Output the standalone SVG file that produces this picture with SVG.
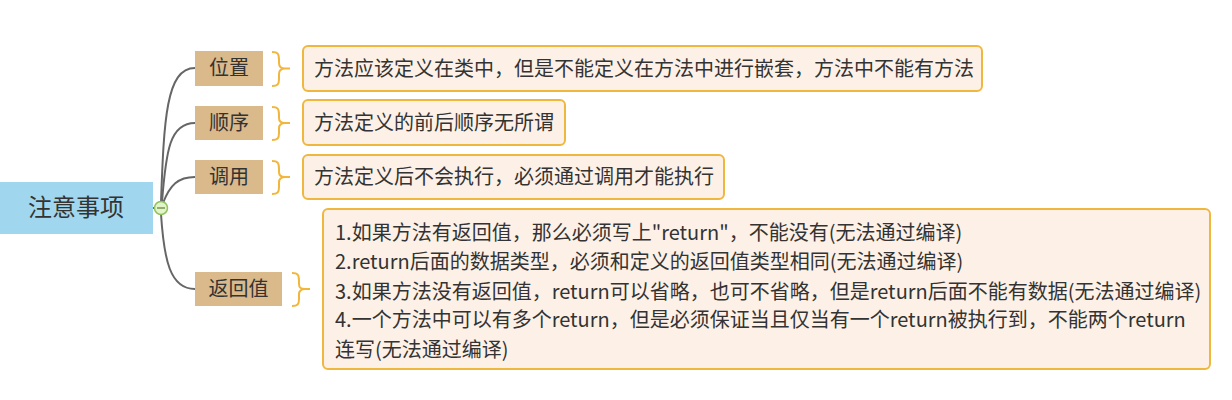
<svg xmlns="http://www.w3.org/2000/svg" width="1232" height="400" viewBox="0 0 1232 400">
<style>
text{font-family:"Microsoft YaHei","Noto Sans CJK SC","Noto Sans",sans-serif;fill:#333;}
.t{font-size:20px;}
.root{font-size:24px;}
.branch{fill:#dab98b;}
.box{fill:#fdf1e7;stroke:#f0b73e;stroke-width:2;}
.brace{fill:none;stroke:#f1b63c;stroke-width:2;}
.conn{fill:none;stroke:#666;stroke-width:2;}
</style>
<rect width="1232" height="400" fill="#fff"/>
<g id="connectors">
<path class="conn" d="M161,202 C164,120 166,68 195,68"/>
<path class="conn" d="M162,202 C166,150 170,123 195,123"/>
<path class="conn" d="M163,203 C170,185 178,177 195,177"/>
<path class="conn" d="M161,214 C164,260 170,289 195,289"/>
<path class="conn" d="M153,208 L155,208"/>
</g>
<g id="root">
<rect x="0" y="182" width="153" height="52" fill="#a0d7ef"/>
<text class="root" x="76" y="216" text-anchor="middle">注意事项</text>
</g>
<g id="collapse">
<circle cx="161" cy="208" r="6.5" fill="#e3f5c8" stroke="#8ec35d" stroke-width="1.5"/>
<line x1="157" y1="208" x2="165" y2="208" stroke="#5a7d3a" stroke-width="1.2"/>
</g>
<g id="n-weizhi">
<rect class="branch" x="195" y="51" width="68" height="35"/>
<text class="t" x="229" y="75" text-anchor="middle">位置</text>
</g>
<g id="n-shunxu">
<rect class="branch" x="195" y="106" width="68" height="34"/>
<text class="t" x="229" y="130" text-anchor="middle">顺序</text>
</g>
<g id="n-diaoyong">
<rect class="branch" x="195" y="160" width="68" height="34"/>
<text class="t" x="229" y="184" text-anchor="middle">调用</text>
</g>
<g id="n-fanhuizhi">
<rect class="branch" x="195" y="272" width="87" height="34"/>
<text class="t" x="238.5" y="296" text-anchor="middle">返回值</text>
</g>
<g id="braces">
<path class="brace" d="M272,52 C278,52 279,54 279,60 L279,63 C279,67 281,68.5 285,68.5 C281,68.5 279,70 279,74 L279,79 C279,84 278,86 272,86 M285,68.5 L290,68.5"/>
<path class="brace" d="M272,107 C278,107 279,109 279,115 L279,118 C279,122 281,123 285,123 C281,123 279,124.5 279,128.5 L279,133 C279,138 278,140 272,140 M285,123 L290,123"/>
<path class="brace" d="M272,161 C278,161 279,163 279,169 L279,172 C279,176 281,177 285,177 C281,177 279,178.5 279,182.5 L279,187 C279,192 278,194 272,194 M285,177 L290,177"/>
<path class="brace" d="M292,273 C298,273 299,275 299,281 L299,284 C299,288 301,289 305,289 C301,289 299,290.5 299,294.5 L299,299 C299,304 298,306 292,306 M305,289 L310,289"/>
</g>
<g id="c-weizhi">
<rect class="box" x="303" y="46" width="679" height="45" rx="5"/>
<text class="t" x="314" y="75.5">方法应该定义在类中，但是不能定义在方法中进行嵌套，方法中不能有方法</text>
</g>
<g id="c-shunxu">
<rect class="box" x="303" y="100" width="262" height="45" rx="5"/>
<text class="t" x="314" y="129.5">方法定义的前后顺序无所谓</text>
</g>
<g id="c-diaoyong">
<rect class="box" x="303" y="155" width="421" height="44" rx="5"/>
<text class="t" x="314" y="184">方法定义后不会执行，必须通过调用才能执行</text>
</g>
<g id="c-fanhuizhi">
<rect class="box" x="323" y="209" width="887" height="160" rx="5"/>
<text class="t" x="335" y="240">1.如果方法有返回值，那么必须写上"return"，不能没有(无法通过编译)</text>
<text class="t" x="335" y="269">2.return后面的数据类型，必须和定义的返回值类型相同(无法通过编译)</text>
<text class="t" x="335" y="299">3.如果方法没有返回值，return可以省略，也可不省略，但是return后面不能有数据(无法通过编译)</text>
<text class="t" x="335" y="327">4.一个方法中可以有多个return，但是必须保证当且仅当有一个return被执行到，不能两个return</text>
<text class="t" x="335" y="357">连写(无法通过编译)</text>
</g>
</svg>
